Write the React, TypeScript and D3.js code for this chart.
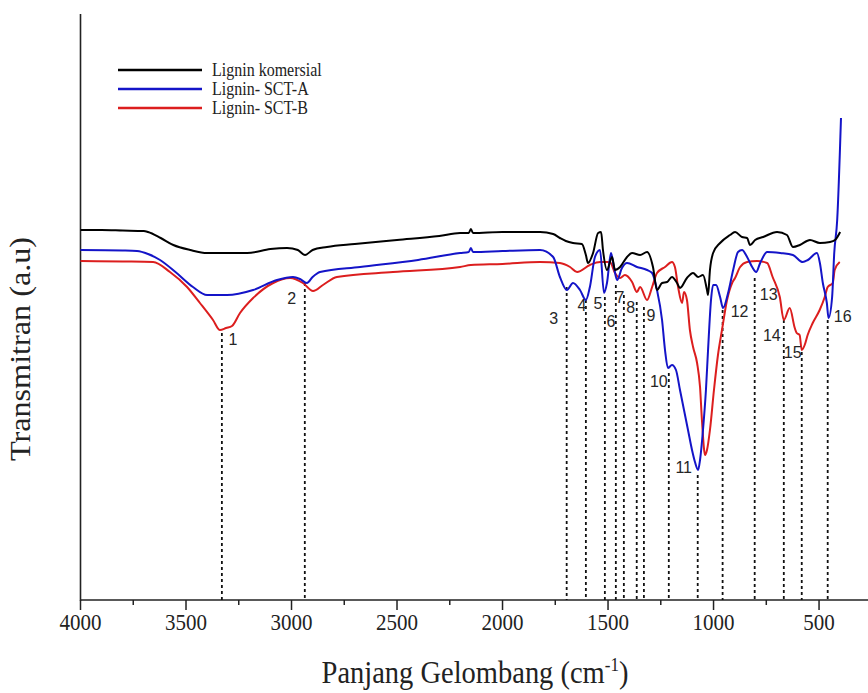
import React, { useEffect, useRef } from "react";
import * as d3 from "d3";

// wavenumber (cm-1) and transmittance (a.u.)
const komersialWn = [4000, 3900, 3800, 3700, 3680, 3620, 3560, 3480, 3400, 3353, 3210, 3100, 3021, 2970, 2936, 2900, 2832, 2700, 2500, 2300, 2201, 2160, 2150, 2140, 2000, 1900, 1822, 1760, 1728, 1700, 1666, 1624, 1605, 1595, 1571, 1547, 1533, 1524, 1505, 1481, 1467, 1443, 1410, 1386, 1348, 1315, 1287, 1268, 1244, 1220, 1197, 1173, 1159, 1126, 1097, 1073, 1050, 1031, 1026, 1017, 1002, 969, 922, 898, 865, 841, 827, 803, 765, 699, 652, 624, 591, 543, 496, 448, 424, 400];
const komersialT = [37.0, 37.0, 36.95, 36.9, 36.8, 36.2, 35.5, 35.0, 34.7, 34.7, 34.7, 35.1, 35.2, 35.0, 34.5, 35.0, 35.3, 35.6, 36.0, 36.4, 36.7, 36.7, 37.1, 36.7, 36.8, 36.8, 36.8, 36.6, 36.2, 35.9, 35.7, 35.6, 34.5, 33.7, 34.7, 36.7, 36.8, 35.0, 33.0, 34.3, 33.0, 33.3, 34.3, 34.7, 34.5, 34.8, 33.3, 31.0, 31.7, 31.8, 32.3, 31.7, 31.2, 32.2, 32.7, 32.3, 32.5, 31.0, 30.5, 33.0, 34.7, 35.7, 36.5, 36.8, 36.3, 36.2, 35.5, 36.0, 36.3, 36.8, 36.5, 35.3, 35.5, 36.0, 35.7, 35.8, 36.0, 36.8];

const sctAWn = [4000, 3800, 3732, 3680, 3623, 3550, 3467, 3400, 3306, 3182, 3069, 2993, 2960, 2927, 2900, 2865, 2675, 2400, 2201, 2160, 2150, 2140, 2000, 1822, 1760, 1728, 1695, 1666, 1633, 1605, 1586, 1562, 1538, 1519, 1505, 1486, 1472, 1457, 1434, 1410, 1363, 1315, 1291, 1268, 1244, 1230, 1216, 1197, 1178, 1159, 1140, 1121, 1102, 1088, 1073, 1064, 1050, 1036, 1026, 1012, 1002, 988, 969, 955, 931, 907, 884, 865, 841, 817, 798, 779, 746, 684, 624, 577, 553, 510, 496, 482, 463, 455, 438, 428, 414, 396];
const sctAT = [35.0, 34.95, 34.9, 34.6, 34.0, 32.8, 31.3, 30.5, 30.5, 31.0, 32.0, 32.3, 32.1, 31.7, 32.3, 32.8, 33.3, 34.0, 34.7, 34.8, 35.2, 34.8, 34.9, 35.0, 34.3, 32.3, 31.0, 31.7, 31.0, 30.0, 31.3, 34.3, 35.0, 30.7, 31.7, 34.7, 33.3, 32.0, 33.2, 33.7, 33.3, 33.0, 32.7, 31.0, 28.0, 25.0, 23.2, 23.5, 23.0, 21.0, 19.0, 17.0, 15.0, 13.8, 13.0, 14.0, 17.0, 21.0, 25.0, 30.0, 31.5, 31.5, 30.3, 29.2, 30.7, 33.0, 34.8, 35.0, 34.3, 33.3, 32.8, 33.7, 34.8, 34.7, 34.5, 33.8, 34.0, 34.7, 33.7, 31.7, 29.7, 28.2, 30.3, 34.7, 38.0, 48.2];

const sctBWn = [4000, 3800, 3656, 3576, 3495, 3434, 3372, 3339, 3310, 3282, 3244, 3182, 3087, 3007, 2946, 2898, 2851, 2785, 2519, 2201, 2150, 2000, 1822, 1728, 1680, 1647, 1586, 1538, 1491, 1467, 1443, 1420, 1386, 1363, 1348, 1315, 1291, 1268, 1230, 1197, 1183, 1168, 1149, 1140, 1126, 1112, 1097, 1078, 1064, 1055, 1040, 1031, 1017, 998, 979, 960, 936, 912, 898, 874, 841, 794, 746, 720, 686, 667, 639, 615, 606, 592, 582, 568, 554, 530, 497, 473, 459, 435, 426, 402];
const sctBT = [33.9, 33.85, 33.8, 32.8, 31.3, 29.7, 28.0, 27.0, 27.2, 27.4, 28.7, 30.2, 31.7, 32.2, 31.7, 30.9, 31.5, 32.3, 32.8, 33.3, 33.5, 33.6, 33.8, 33.7, 33.3, 32.8, 33.5, 33.8, 33.8, 32.7, 32.2, 32.5, 31.8, 30.8, 31.3, 30.0, 31.3, 32.7, 33.3, 33.8, 33.3, 31.3, 29.7, 30.8, 30.0, 27.0, 25.3, 23.7, 21.3, 18.0, 14.5, 15.0, 17.0, 21.0, 24.5, 27.0, 30.0, 31.7, 32.2, 33.3, 33.8, 33.9, 33.7, 32.3, 30.3, 28.0, 29.2, 27.2, 26.7, 26.5, 25.0, 25.5, 26.5, 27.7, 29.0, 30.3, 31.3, 31.7, 33.0, 33.8];

// marked bands: wavenumber and the transmittance where the dotted line starts
const peakWn = [3330, 2937, 1696, 1605, 1515, 1463, 1425, 1364, 1330, 1212, 1075, 957, 805, 667, 582, 459];
const peakT = [26.7, 31.7, 31.3, 30.0, 30.3, 31.5, 30.5, 29.8, 29.3, 22.7, 12.5, 29.0, 32.2, 28.0, 24.8, 28.0];
const peakNames = ["1", "2", "3", "4", "5", "6", "7", "8", "9", "10", "11", "12", "13", "14", "15", "16"];
// label offset from the top of each dotted line (px)
const labelOffsets = [[11, 6], [-13, 15], [-13, 31], [-4, 5], [-7, 6], [-5, 36], [-4, 2], [-6, 5], [7, 8], [-10, 8], [-14, -8], [17, 1], [14, 16], [-12, 15], [-9, 0], [15, -4]];

const seriesNames = ["Lignin komersial", "Lignin- SCT-A", "Lignin- SCT-B"];
const seriesColors = ["#000000", "#1414c8", "#dc1e1e"];

const xTicks = [4000, 3500, 3000, 2500, 2000, 1500, 1000, 500];

export default function App() {
  const svgRef = useRef<SVGSVGElement>(null);

  useEffect(() => {
    const svg = d3.select(svgRef.current);
    svg.selectAll("*").remove();

    const width = 868;
    const x = d3.scaleLinear().domain([4000, 268]).range([80.5, 868]);
    const y = d3.scaleLinear().domain([0, 58.6]).range([600, 14]);

    const serif = "'Liberation Serif', 'Times New Roman', serif";
    // the source picture is a little stretched vertically, so is its text
    const stretch = 1.13;

    // x axis with minor ticks every 250
    const xAxis = svg.append("g").attr("transform", "translate(0,600)");
    xAxis.append("line").attr("x1", 80.5).attr("x2", width).attr("stroke", "#222").attr("stroke-width", 1.6);
    const minor = d3.range(4000, 268, -250).filter((d) => d % 500 !== 0);
    xAxis
      .selectAll(".minor")
      .data(minor)
      .join("line")
      .attr("class", "minor")
      .attr("x1", (d) => x(d))
      .attr("x2", (d) => x(d))
      .attr("y2", 5)
      .attr("stroke", "#222")
      .attr("stroke-width", 1.5);
    xAxis
      .selectAll(".major")
      .data(xTicks)
      .join("line")
      .attr("class", "major")
      .attr("x1", (d) => x(d))
      .attr("x2", (d) => x(d))
      .attr("y2", 10)
      .attr("stroke", "#222")
      .attr("stroke-width", 1.5);
    xAxis
      .selectAll("text")
      .data(xTicks)
      .join("text")
      .attr("transform", (d) => `translate(${x(d)},30) scale(1,${stretch})`)
      .attr("text-anchor", "middle")
      .style("font-family", serif)
      .style("font-size", "21px")
      .attr("fill", "#222")
      .text((d) => d);

    // y axis: plain line, no ticks
    svg
      .append("line")
      .attr("x1", 80.5)
      .attr("x2", 80.5)
      .attr("y1", 14)
      .attr("y2", 600.8)
      .attr("stroke", "#222")
      .attr("stroke-width", 1.6);

    // axis titles
    const xTitle = svg
      .append("text")
      .attr("transform", `translate(475,683) scale(1,${stretch})`)
      .attr("text-anchor", "middle")
      .style("font-family", serif)
      .style("font-size", "28.5px")
      .attr("fill", "#222");
    xTitle.append("tspan").text("Panjang Gelombang (cm");
    xTitle.append("tspan").attr("dy", -11).style("font-size", "17px").text("-1");
    xTitle.append("tspan").attr("dy", 11).text(")");

    svg
      .append("text")
      .attr("transform", `translate(30,349) scale(1,${stretch}) rotate(-90)`)
      .attr("text-anchor", "middle")
      .style("font-family", serif)
      .style("font-size", "28.5px")
      .attr("fill", "#222")
      .text("Transmitran (a.u)");

    // dotted band markers
    svg
      .append("g")
      .selectAll("line")
      .data(peakWn)
      .join("line")
      .attr("x1", (d) => x(d))
      .attr("x2", (d) => x(d))
      .attr("y1", (d, i) => y(peakT[i]))
      .attr("y2", 600)
      .attr("stroke", "#111")
      .attr("stroke-width", 1.8)
      .attr("stroke-dasharray", "3,3");

    // spectra
    const spectra = [
      komersialWn.map((w, i) => [w, komersialT[i]]),
      sctAWn.map((w, i) => [w, sctAT[i]]),
      sctBWn.map((w, i) => [w, sctBT[i]]),
    ];
    const line = d3
      .line<number[]>()
      .x((d) => x(d[0]))
      .y((d) => y(d[1]))
      .curve(d3.curveMonotoneX);
    // red first, then blue, black on top
    [2, 1, 0].forEach((k) => {
      svg
        .append("path")
        .attr("d", line(spectra[k]))
        .attr("fill", "none")
        .attr("stroke", seriesColors[k])
        .attr("stroke-width", 2)
        .attr("stroke-linejoin", "round");
    });

    // band numbers
    svg
      .append("g")
      .selectAll("text")
      .data(peakNames)
      .join("text")
      .attr("x", (d, i) => x(peakWn[i]) + labelOffsets[i][0])
      .attr("y", (d, i) => y(peakT[i]) + labelOffsets[i][1])
      .attr("text-anchor", "middle")
      .attr("dominant-baseline", "central")
      .style("font-family", "'Liberation Sans', Arial, sans-serif")
      .style("font-size", "16px")
      .attr("fill", "#262626")
      .text((d) => d);

    // legend
    const legend = svg.append("g").attr("transform", "translate(118,70)");
    seriesNames.forEach((name, i) => {
      legend
        .append("line")
        .attr("x1", 0)
        .attr("x2", 84)
        .attr("y1", i * 19)
        .attr("y2", i * 19)
        .attr("stroke", seriesColors[i])
        .attr("stroke-width", 2.6);
      legend
        .append("text")
        .attr("transform", `translate(94,${i * 19 + 5.5}) scale(1,${stretch})`)
        .style("font-family", serif)
        .style("font-size", "16px")
        .attr("fill", "#222")
        .text(name);
    });
  }, []);

  return (
    <svg
      ref={svgRef}
      width={868}
      height={693}
      style={{ position: "absolute", left: 0, top: 0, background: "#fff" }}
    />
  );
}
